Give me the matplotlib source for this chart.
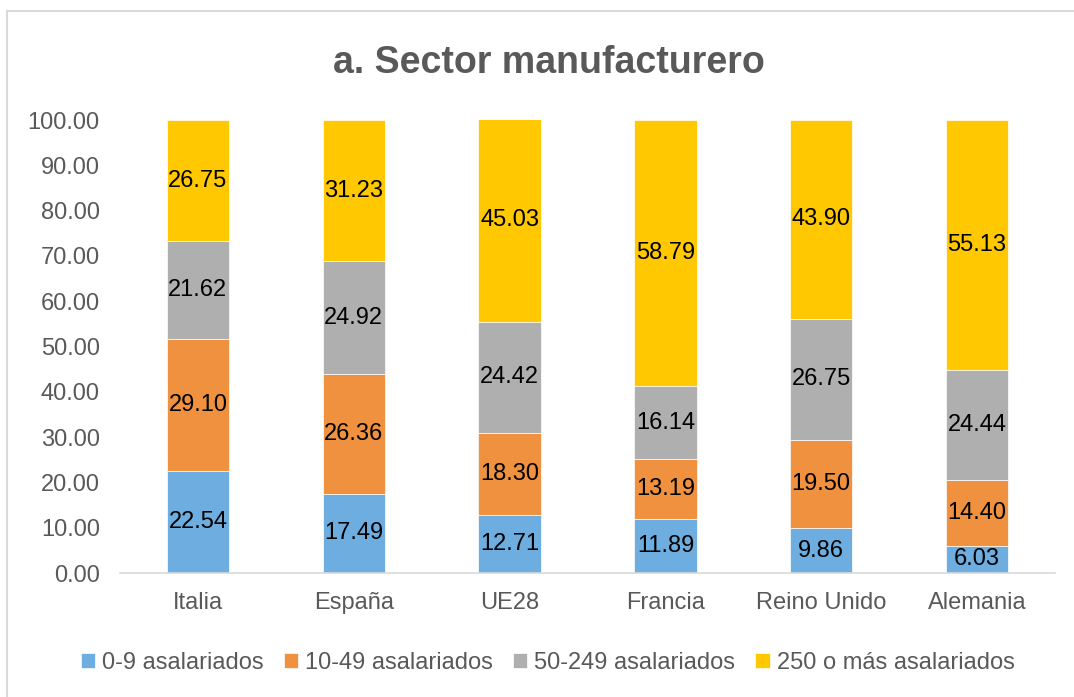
import numpy as np
import matplotlib.pyplot as plt
from matplotlib.patches import Rectangle

plt.rcParams['font.family'] = ['Liberation Sans', 'DejaVu Sans']

paises = ['Italia', 'España', 'UE28', 'Francia', 'Reino Unido', 'Alemania']
tramos = ['0-9 asalariados', '10-49 asalariados', '50-249 asalariados',
          '250 o más asalariados']
micro = [22.54, 17.49, 12.71, 11.89, 9.86, 6.03]
pequenas = [29.10, 26.36, 18.30, 13.19, 19.50, 14.40]
medianas = [21.62, 24.92, 24.42, 16.14, 26.75, 24.44]
grandes = [26.75, 31.23, 45.03, 58.79, 43.90, 55.13]

colores = ['#6DADDF', '#F0913F', '#AFAFAF', '#FFC800']
gris = '#595959'

fig = plt.figure(figsize=(10.74, 6.97), dpi=100)
ax = fig.add_axes([0.1117, 0.1779, 0.8706, 0.6499])

# marco del grafico
fig.patches.append(Rectangle((7 / 1074, -0.1), 1.2, 1.1 - 11 / 697,
                             transform=fig.transFigure, fill=False,
                             edgecolor='#D9D9D9', linewidth=1.5))

x = np.arange(len(paises))
base = np.zeros(len(paises))
for serie, nombre, color in zip([micro, pequenas, medianas, grandes], tramos, colores):
    vals = np.array(serie)
    ax.bar(x, vals, 0.4, bottom=base, color=color, label=nombre,
           edgecolor='white', linewidth=0.5)
    for xi, b, v in zip(x, base, vals):
        ax.text(xi, b + v / 2, f'{v:.2f}', ha='center', va='center',
                fontsize=17, color='black')
    base = base + vals

ax.set_xlim(-0.5, len(paises) - 0.5)
ax.set_ylim(0, 100)
ax.set_yticks(np.arange(0, 101, 10))
ax.set_yticklabels([f'{v:.2f}' for v in np.arange(0, 101, 10)])
ax.set_xticks(x)
ax.set_xticklabels(paises)
ax.tick_params(axis='both', length=0, labelsize=17, labelcolor=gris)
ax.tick_params(axis='x', pad=14)
ax.tick_params(axis='y', pad=14.5)
for lado in ['top', 'right', 'left']:
    ax.spines[lado].set_visible(False)
ax.spines['bottom'].set_color('#D9D9D9')
ax.spines['bottom'].set_linewidth(1.2)

fig.text(0.511, 0.909, 'a. Sector manufacturero', ha='center', va='center',
         fontsize=27, fontweight='bold', color=gris)

fig.legend(loc='center', bbox_to_anchor=(0.51, 0.049), ncol=4, frameon=False,
           fontsize=17, labelcolor=gris, handlelength=0.6, handleheight=0.6,
           handletextpad=0.3, columnspacing=0.85)

fig.savefig('out.png', dpi=100)
